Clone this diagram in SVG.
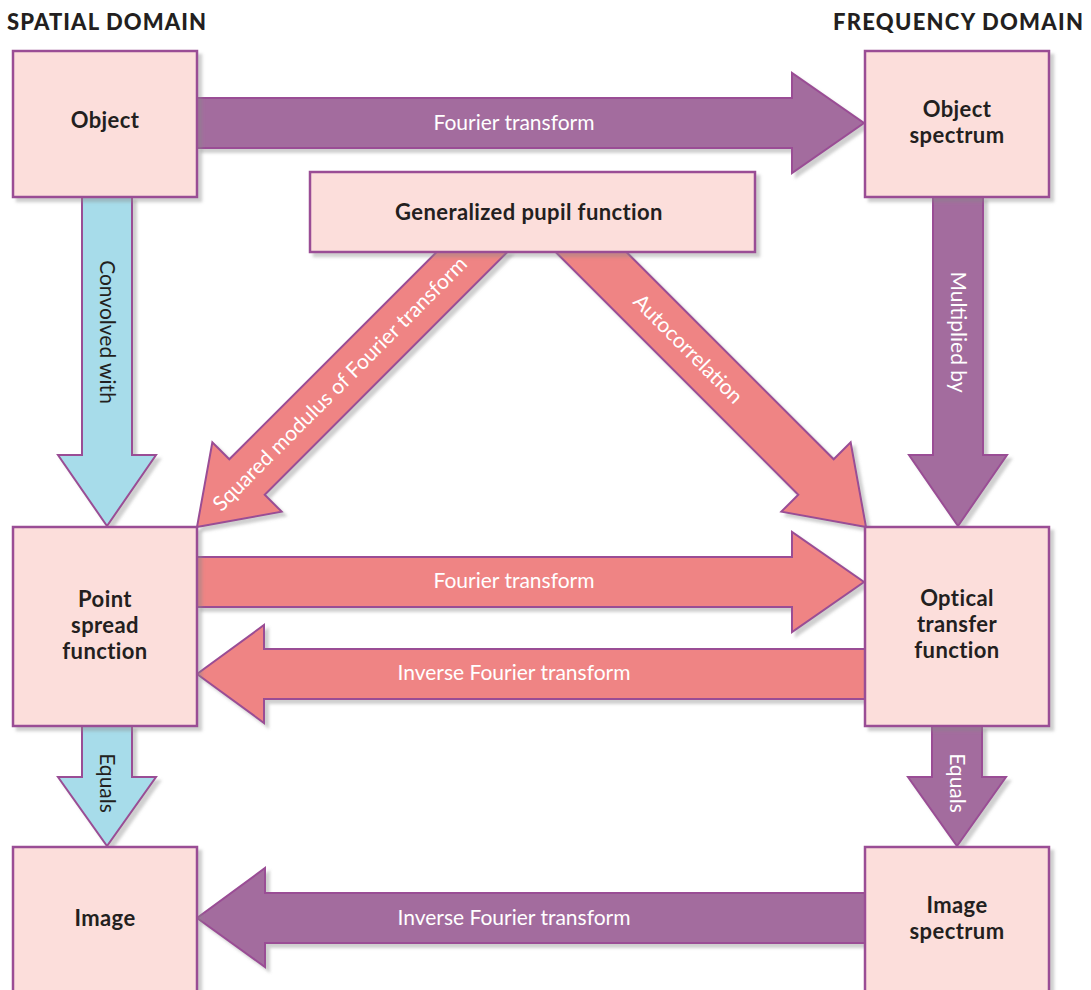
<svg xmlns="http://www.w3.org/2000/svg" width="1091" height="990" viewBox="0 0 1091 990">
<defs>
<filter id="sh" x="-10%" y="-10%" width="130%" height="130%">
<feDropShadow dx="4" dy="4" stdDeviation="1.5" flood-color="#888" flood-opacity="0.4"/>
</filter>
<style>
.box{fill:#FCDEDB;stroke:#9A4D95;stroke-width:2.5;filter:url(#sh)}
.arr{stroke:#9A4D95;stroke-width:2;stroke-linejoin:miter;filter:url(#sh)}
.pur{fill:#A36C9E}
.sal{fill:#EF8484}
.blu{fill:#A7DCEA}
.lbl{font-family:Lato,"Open Sans","Liberation Sans",sans-serif;font-weight:bold;font-size:22px;letter-spacing:0.4px;fill:#231F20;text-anchor:middle}
.hdr{font-family:Lato,"Open Sans","Liberation Sans",sans-serif;font-weight:900;font-size:22px;fill:#231F20}
.wt{font-family:Lato,"Open Sans","Liberation Sans",sans-serif;font-size:21px;fill:#FFFFFF;text-anchor:middle}
.dk{font-family:Lato,"Open Sans","Liberation Sans",sans-serif;font-size:21px;fill:#231F20;text-anchor:middle}
</style>
</defs>
<rect width="1091" height="990" fill="#FFFFFF"/>
<text class="hdr" x="7" y="30" textLength="199">SPATIAL DOMAIN</text>
<text class="hdr" x="1083" y="30" text-anchor="end" textLength="250">FREQUENCY DOMAIN</text>
<g id="connectors">
<g id="ft-top"><polygon class="arr pur" points="197,98 792,98 792,73 864,123 792,173 792,148 197,148"/><text class="wt" x="514" y="130">Fourier transform</text></g>
<g id="convolved"><polygon class="arr blu" points="82,197 132,197 132,455 156,455 107,526 58,455 82,455"/><text class="dk" transform="translate(107,332) rotate(90)" x="0" y="7">Convolved with</text></g>
<g id="multiplied"><polygon class="arr pur" points="933,197 983,197 983,455 1007,455 958,526 909,455 933,455"/><text class="wt" transform="translate(958,332) rotate(90)" x="0" y="7">Multiplied by</text></g>
<g id="squared"><polygon class="arr sal" points="437.6,251 508.4,251 264.7,494.7 281.65,511.65 197,527 212.35,442.35 229.3,459.3"/><text class="wt" transform="translate(340,384) rotate(-45)" x="0" y="7">Squared modulus of Fourier transform</text></g>
<g id="autocorr"><polygon class="arr sal" points="554.6,251 625.4,251 833.7,459.3 850.65,442.35 866,527 781.35,511.65 798.3,494.7"/><text class="wt" transform="translate(688,349) rotate(45)" x="0" y="7">Autocorrelation</text></g>
<g id="ft-mid"><polygon class="arr sal" points="197,557 792,557 792,532 864,582 792,632 792,607 197,607"/><text class="wt" x="514" y="588">Fourier transform</text></g>
<g id="ift-mid"><polygon class="arr sal" points="865,649 264,649 264,625 197,674 264,723 264,699 865,699"/><text class="wt" x="514" y="680">Inverse Fourier transform</text></g>
<g id="equals-left"><polygon class="arr blu" points="82,726 132,726 132,777 156,777 107,846 58,777 82,777"/><text class="dk" transform="translate(107,783) rotate(90)" x="0" y="7">Equals</text></g>
<g id="equals-right"><polygon class="arr pur" points="932,726 982,726 982,777 1006,777 957,846 908,777 932,777"/><text class="wt" transform="translate(957,783) rotate(90)" x="0" y="7">Equals</text></g>
<g id="ift-bottom"><polygon class="arr pur" points="865,893 265,893 265,868 197,918 265,967 265,943 865,943"/><text class="wt" x="514" y="925">Inverse Fourier transform</text></g>
</g>
<g id="object"><rect class="box" x="13" y="51" width="184" height="146"/><text class="lbl" x="105" y="128">Object</text></g>
<g id="object-spectrum"><rect class="box" x="865" y="51" width="184" height="146"/><text class="lbl" x="957" y="117">Object</text><text class="lbl" x="957" y="143">spectrum</text></g>
<g id="pupil"><rect class="box" x="310" y="172" width="445" height="80"/><text class="lbl" x="529" y="220">Generalized pupil function</text></g>
<g id="psf"><rect class="box" x="13" y="527" width="184" height="199"/><text class="lbl" x="105" y="607">Point</text><text class="lbl" x="105" y="633">spread</text><text class="lbl" x="105" y="659">function</text></g>
<g id="otf"><rect class="box" x="865" y="527" width="184" height="199"/><text class="lbl" x="957" y="606">Optical</text><text class="lbl" x="957" y="632">transfer</text><text class="lbl" x="957" y="658">function</text></g>
<g id="image"><rect class="box" x="13" y="847" width="184" height="160"/><text class="lbl" x="105" y="926">Image</text></g>
<g id="image-spectrum"><rect class="box" x="865" y="847" width="184" height="160"/><text class="lbl" x="957" y="913">Image</text><text class="lbl" x="957" y="939">spectrum</text></g>
</svg>
